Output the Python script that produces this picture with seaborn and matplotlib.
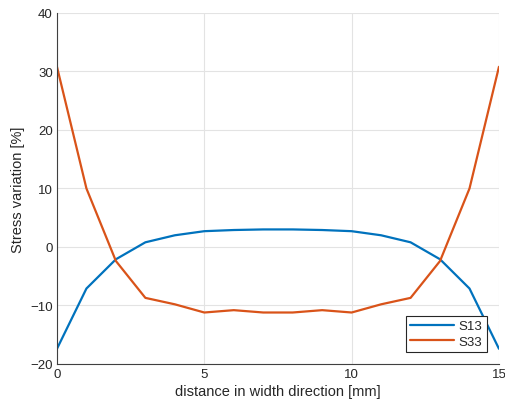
import numpy as np
import pandas as pd
import matplotlib
matplotlib.use("Agg")
import matplotlib.pyplot as plt
import seaborn as sns

distance = list(range(16))
s13 = [-17.4, -7.1, -2.1, 0.8, 2.0, 2.7, 2.9, 3.0, 3.0, 2.9, 2.7, 2.0, 0.8, -2.1, -7.1, -17.4]
s33 = [30.8, 10.0, -2.4, -8.7, -9.8, -11.2, -10.8, -11.2, -11.2, -10.8, -11.2, -9.8, -8.7, -2.4, 10.0, 30.8]
series_names = ["S13", "S33"]
colors = ["#0072BD", "#D95319"]
xticks = [0, 5, 10, 15]
yticks = [-20, -10, 0, 10, 20, 30, 40]

df = pd.concat([
    pd.DataFrame({"x": distance, "y": s13, "series": series_names[0]}),
    pd.DataFrame({"x": distance, "y": s33, "series": series_names[1]}),
])

sns.set_style("white")
plt.rcParams["font.family"] = ["Liberation Sans", "DejaVu Sans"]

fig = plt.figure(figsize=(5.06, 4.10), dpi=100)
ax = fig.add_axes([0.1126, 0.1098, 0.8735, 0.8561])
sns.lineplot(data=df, x="x", y="y", hue="series", palette=colors, linewidth=1.6, ax=ax)

ax.set_xlim(0, 15)
ax.set_ylim(-20, 40)
ax.set_xticks(xticks)
ax.set_yticks(yticks)
ax.grid(True, color="#e3e3e3", linewidth=0.8)
ax.set_axisbelow(True)
for s in ["top", "right"]:
    ax.spines[s].set_visible(False)
for s in ["left", "bottom"]:
    ax.spines[s].set_color("#404040")
    ax.spines[s].set_linewidth(0.8)
ax.tick_params(direction="in", length=4, width=0.8, color="#404040", labelsize=9.5, labelcolor="#262626", pad=3)
ax.set_xlabel("distance in width direction [mm]", fontsize=10.5, color="#262626", labelpad=3)
ax.set_ylabel("Stress variation [%]", fontsize=10.5, color="#262626", labelpad=4)

leg = ax.legend(loc="lower right", bbox_to_anchor=(0.972, 0.035), fontsize=9.5, frameon=True,
                fancybox=False, edgecolor="#262626", framealpha=1, handlelength=3.3,
                borderpad=0.3, labelspacing=0.25, handletextpad=0.4, borderaxespad=0)
leg.get_frame().set_linewidth(0.8)

fig.savefig("out.png", dpi=100)
